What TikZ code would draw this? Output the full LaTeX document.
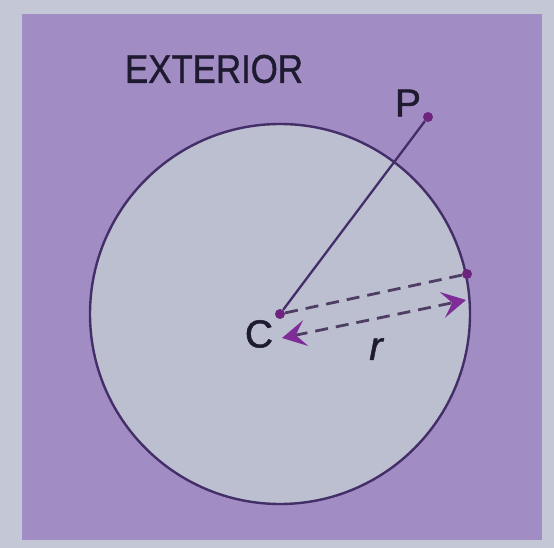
\documentclass[tikz,border=0pt]{standalone}
\usepackage{fontspec}
\setmainfont{Liberation Sans}
\newfontfamily\labfont[FakeBold=1.2]{Liberation Sans}
\usetikzlibrary{arrows.meta}
\definecolor{bgout}{RGB}{196,200,214}
\definecolor{bgpurple}{RGB}{162,140,196}
\definecolor{innerc}{RGB}{187,191,208}
\definecolor{linec}{RGB}{68,46,104}
\definecolor{dotc}{RGB}{108,36,124}
\definecolor{arrc}{RGB}{128,44,152}
\definecolor{dashc}{RGB}{78,62,100}
\definecolor{textc}{RGB}{30,26,48}
\tikzset{
  dotnode/.style={circle, fill=dotc, inner sep=0pt, minimum size=10pt},
  lab/.style={text=textc, inner sep=0pt, font=\labfont\fontsize{39}{42}\selectfont},
  dashline/.style={draw=dashc, line width=2.8pt, dash pattern=on 13pt off 8pt},
  rtip/.tip={Stealth[length=24pt, width=26pt, inset=10pt, color=arrc]}
}
\begin{document}
\begin{tikzpicture}[x=1pt, y=-1pt]
  \useasboundingbox (0,0) rectangle (554,548);
  \fill[bgout] (0,0) rectangle (554,548);
  \fill[bgpurple] (22,14) rectangle (542,540);
  \node[circle, draw=linec, line width=2.4pt, fill=innerc, minimum size=380pt, inner sep=0pt] (circ) at (280,314) {};
  \node[dotnode] (C) at (280,314) {};
  \node[dotnode] (P) at (428,117) {};
  \node[dotnode] (Q) at (467,274) {};
  \draw[linec, line width=2.3pt] (C) -- (P);
  \draw[dashline] (C) -- (Q);
  \coordinate (A1) at (282,338);
  \coordinate (A2) at (466,300);
  \draw[dashline, rtip-rtip] (A1) -- (A2);
  \node[lab] (Clab) at (259,334) {C};
  \node[lab] (Plab) at (408,103) {P};
  \node[lab, font=\labfont\fontsize{40}{42}\selectfont\itshape] (rlab) at (376,349) {r};
  \node[lab, font=\labfont\fontsize{40}{42}\selectfont] (ext) at (214,69) {\scalebox{0.87}[1]{EXTERIOR}};
\end{tikzpicture}
\end{document}
